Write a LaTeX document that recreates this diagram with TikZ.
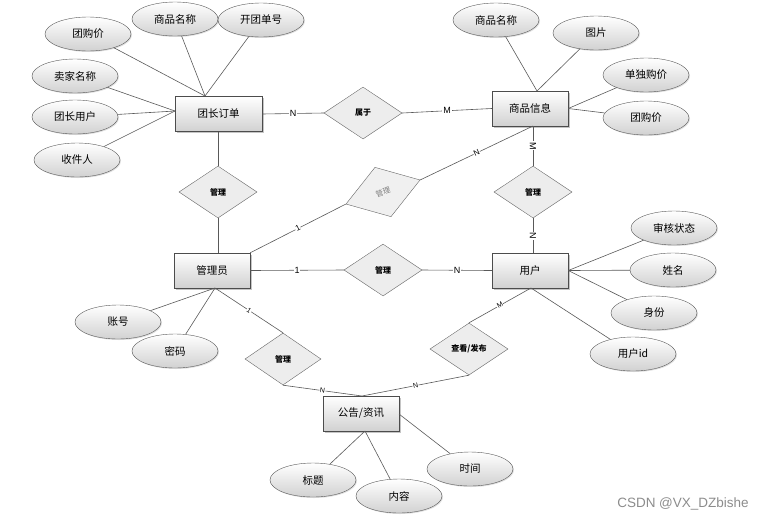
\documentclass[tikz,border=0pt]{standalone}
\usepackage{fontspec}
\setmainfont{Noto Sans CJK SC}
\newfontfamily\latinfont{Liberation Sans}
\usetikzlibrary{shapes.geometric,shadows}
\tikzset{
  ent/.style={rectangle, draw=black!70, top color=white, bottom color=black!18,
    drop shadow={shadow xshift=1.5pt, shadow yshift=-1.5pt, fill=black!45},
    minimum width=76pt, minimum height=35pt, inner sep=0pt,
    font=\fontsize{10.5}{12}\selectfont},
  attr/.style={ellipse, draw=black!65, top color=white, bottom color=black!18,
    drop shadow={shadow xshift=1pt, shadow yshift=-1pt, fill=black!25},
    minimum width=86pt, minimum height=34pt, inner sep=0pt,
    font=\fontsize{10.5}{12}\selectfont},
  rel/.style={diamond, draw=black!60, fill=black!7, minimum width=78pt,
    minimum height=52pt, inner sep=0pt, font=\fontsize{8}{9}\selectfont\bfseries},
  conn/.style={draw=black!65, line width=0.6pt},
  card/.style={fill=white, inner sep=0.8pt, font=\latinfont\fontsize{9}{10}\selectfont},
  cards/.style={fill=white, inner sep=0.5pt, font=\latinfont\fontsize{7}{8}\selectfont},
}
\begin{document}
\begin{tikzpicture}[x=1pt,y=-1pt]
\useasboundingbox (0,0) rectangle (770,520);

% entities
\node[ent, minimum width=87pt] (tz) at (218.5,114) {团长订单};
\node[ent] (sp) at (530,108.5) {商品信息};
\node[ent] (gly) at (212,270.5) {管理员};
\node[ent] (yh) at (530,270.5) {用户};
\node[ent] (gg) at (361,413.5) {公告/资讯};

% attributes
\node[attr] (a1) at (88,34) {团购价};
\node[attr] (a2) at (175,19) {商品名称};
\node[attr] (a3) at (261,20) {开团单号};
\node[attr] (a4) at (75,76) {卖家名称};
\node[attr] (a5) at (75,117) {团长用户};
\node[attr] (a6) at (77,160) {收件人};
\node[attr] (b1) at (496,20) {商品名称};
\node[attr] (b2) at (596,33) {图片};
\node[attr] (b3) at (646,75) {单独购价};
\node[attr] (b4) at (646,118) {团购价};
\node[attr] (c1) at (674,228) {审核状态};
\node[attr] (c2) at (673,270) {姓名};
\node[attr] (c3) at (654,313) {身份};
\node[attr] (c4) at (633,354) {用户id};
\node[attr] (d1) at (118,322) {账号};
\node[attr] (d2) at (175,351) {密码};
\node[attr] (e1) at (313,480) {标题};
\node[attr] (e2) at (399,496) {内容};
\node[attr] (e3) at (470,469) {时间};

% relationships
\node[rel] (r1) at (363,113) {属于};
\node[rel] (r2) at (218,192) {管理};
\node[rel, rotate=18, fill=black!6, text=black!50, font=\fontsize{7.5}{9}\selectfont] (r3) at (383,192) {管理};
\node[rel] (r4) at (533,192) {管理};
\node[rel] (r5) at (383,270) {管理};
\node[rel, minimum width=76pt] (r6) at (283,359) {管理};
\node[rel] (r7) at (469,349) {查看/发布};

% junction points
\coordinate (tzt) at (205,96);
\coordinate (tzl) at (175,111);
\coordinate (spt) at (537,91);
\coordinate (spb) at (533,126);
\coordinate (glyb) at (215,288);
\coordinate (glyt) at (218,253);
\coordinate (yhb) at (531,288);
\coordinate (yht) at (533,253);
\coordinate (ggt) at (362,396);
\coordinate (ggb) at (365,431);
\coordinate (ggr) at (399,414);

% attribute lines
\draw[conn] (a1) -- (tzt);
\draw[conn] (a2) -- (tzt);
\draw[conn] (a3) -- (tzt);
\draw[conn] (a4) -- (tzl);
\draw[conn] (a5) -- (tzl);
\draw[conn] (a6) -- (tzl);
\draw[conn] (b1) -- (spt);
\draw[conn] (b2) -- (spt);
\draw[conn] (b3) -- (sp.east);
\draw[conn] (b4) -- (sp.east);
\draw[conn] (c1) -- (yh.east);
\draw[conn] (c2) -- (yh.east);
\draw[conn] (c3) -- (yh.east);
\draw[conn] (c4) -- (yhb);
\draw[conn] (d1) -- (glyb);
\draw[conn] (d2) -- (glyb);
\draw[conn] (e1) -- (ggb);
\draw[conn] (e2) -- (ggb);
\draw[conn] (e3) -- (ggr);

% relationship lines
\draw[conn] (tz.east) -- node[card, pos=0.5] {N} (r1.west);
\draw[conn] (r1.east) -- node[card, pos=0.5] {M} (sp.west);
\draw[conn] (tz.south -| r2.north) -- (r2.north);
\draw[conn] (r2.south) -- (glyt);
\draw[conn] (spb) -- node[card, rotate=-90] {M} (r4.north);
\draw[conn] (r4.south) -- node[card, rotate=-90] {N} (yht);
\draw[conn] (gly.east) -- node[card, pos=0.5] {1} (r5.west);
\draw[conn] (r5.east) -- node[card, pos=0.5] {N} (yh.west);
\draw[conn] (gly.north east) -- node[cards, pos=0.5, rotate=27, font=\latinfont\fontsize{8}{9}\selectfont] {1} (r3.west);
\draw[conn] (r3.east) -- node[cards, pos=0.5, rotate=25, font=\latinfont\fontsize{8}{9}\selectfont] {N} (spb);
\draw[conn] (glyb) -- node[cards, pos=0.5, rotate=-33] {1} (r6.north);
\draw[conn] (r6.south) -- node[cards, pos=0.5, rotate=-8] {N} (ggt);
\draw[conn] (r7.south) -- node[cards, pos=0.5, rotate=12] {N} (ggt);
\draw[conn] (yhb) -- node[cards, pos=0.5, rotate=30] {M} (r7.north);

% watermark
\node[font=\latinfont\fontsize{13.5}{15}\selectfont, text=black!45] (wm) at (683,504) {CSDN @VX\_DZbishe};
\end{tikzpicture}
\end{document}
